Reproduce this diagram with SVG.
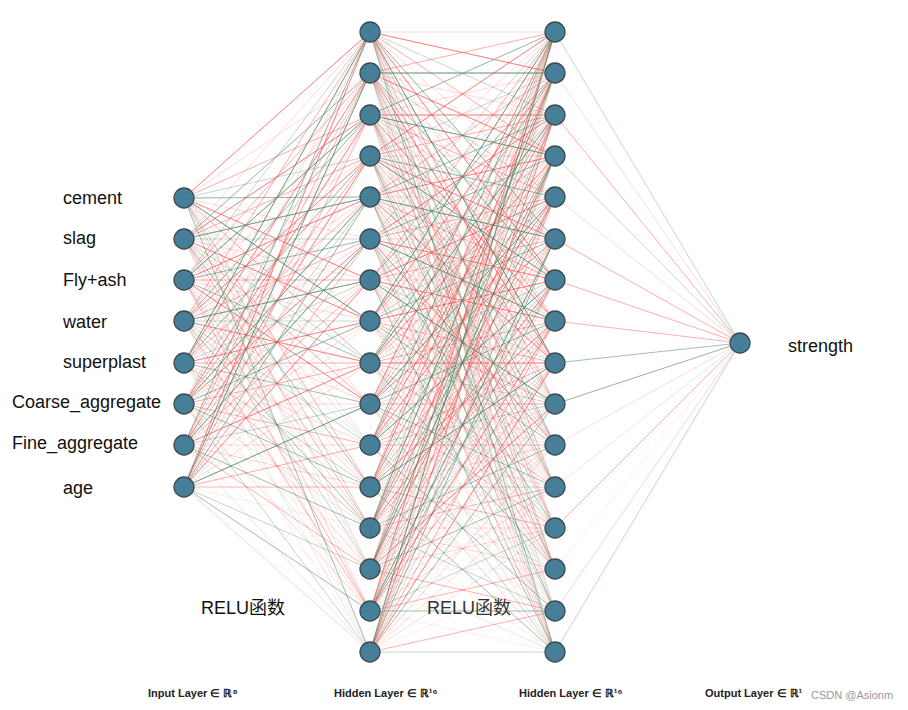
<svg xmlns="http://www.w3.org/2000/svg" width="908" height="710" viewBox="0 0 908 710">
<style>
.e{fill:none;stroke-width:1;stroke-linejoin:round}
.a{stroke:#ff4545;stroke-opacity:.42}
.b{stroke:#ff4a4a;stroke-opacity:.25}
.c{stroke:#ff5a5a;stroke-opacity:.12}
.d{stroke:#4f8462;stroke-opacity:.52}
.g{stroke:#4f8462;stroke-opacity:.34}
.f{stroke:#4f8462;stroke-opacity:.17}
.n circle{fill:#467f97;stroke:#3c4a52;stroke-width:1.3}
.lbl{font-family:"Liberation Sans",Arial,sans-serif;font-size:18px;fill:#111}
.cap{font-family:"Liberation Sans",Arial,sans-serif;font-size:11px;font-weight:bold;fill:#222}
.relu{font-family:"Liberation Sans","Noto Sans CJK SC",sans-serif;font-size:18px}
</style>
<rect width="908" height="710" fill="#fff"/>
<g id="connectors">
<!-- input -> hidden1 -->
<path class="e a" d="M184 198L370 32 184 198 370 280 184 198 370 487M184 239L370 115 184 239 370 321 184 239 370 528M184 280L370 197 184 280 370 404 184 280 370 611M184 321L370 156 184 321 370 363 184 321 370 611M184 363L370 73 184 363 370 321 184 363 370 528M184 404L370 115 184 404 370 239 184 404 370 445M184 445L370 156 184 445 370 363 184 445 370 569M184 487L370 32 184 487 370 280 184 487 370 487"/>
<path class="e b" d="M184 198L370 115 184 198 370 363 184 198 370 569M184 239L370 156 184 239 370 404 184 239 370 611M184 280L370 73 184 280 370 280 184 280 370 528M184 321L370 32 184 321 370 239 184 321 370 487M184 363L370 197 184 363 370 363 184 363 370 569M184 404L370 156 184 404 370 363 184 404 370 611M184 445L370 73 184 445 370 280 184 445 370 487M184 487L370 115 184 487 370 239 184 487 370 445 184 487 370 652"/>
<path class="e c" d="M184 198L370 73 184 198 370 239 184 198 370 404 184 198 370 611M184 239L370 32 184 239 370 280 184 239 370 445 184 239 370 652M184 280L370 156 184 280 370 321 184 280 370 487 184 280 370 652M184 321L370 73 184 321 370 197 184 321 370 404 184 321 370 569M184 363L370 115 184 363 370 239 184 363 370 445 184 363 370 652M184 404L370 32 184 404 370 280 184 404 370 404 184 404 370 569M184 445L370 115 184 445 370 321 184 445 370 445 184 445 370 611M184 487L370 156 184 487 370 363 184 487 370 528"/>
<path class="e d" d="M184 198L370 321 184 198 370 652M184 239L370 197 184 239 370 487M184 280L370 115 184 280 370 363M184 321L370 280 184 321 370 528M184 363L370 32 184 363 370 404M184 404L370 197 184 404 370 487M184 445L370 239 184 445 370 528M184 487L370 73 184 487 370 404 184 487 370 611"/>
<path class="e g" d="M184 198L370 197 184 198 370 528M184 239L370 73 184 239 370 363M184 280L370 239 184 280 370 569M184 321L370 115 184 321 370 445M184 363L370 156 184 363 370 487M184 404L370 321 184 404 370 652M184 445L370 32 184 445 370 404M184 487L370 197 184 487 370 569"/>
<path class="e f" d="M184 198L370 156 184 198 370 445M184 239L370 239 184 239 370 569M184 280L370 32 184 280 370 445M184 321L370 321 184 321 370 652M184 363L370 280 184 363 370 611M184 404L370 73 184 404 370 528M184 445L370 197 184 445 370 652M184 487L370 321"/>
<!-- hidden1 -> hidden2 -->
<path class="e a" d="M370 32L555 73 370 32 555 280 370 32 555 487M370 73L555 156 370 73 555 363 370 73 555 569M370 115L555 115 370 115 555 321 370 115 555 528M370 156L555 32 370 156 555 239 370 156 555 487M370 197L555 156 370 197 555 363 370 197 555 569M370 239L555 115 370 239 555 280 370 239 555 445 370 239 555 652M370 280L555 197 370 280 555 321 370 280 555 569M370 321L555 73 370 321 555 280 370 321 555 404M370 363L555 156 370 363 555 363 370 363 555 487M370 404L555 32 370 404 555 239 370 404 555 528M370 445L555 115 370 445 555 197 370 445 555 445M370 487L555 73 370 487 555 321 370 487 555 528M370 528L555 156 370 528 555 280 370 528 555 487M370 569L555 197 370 569 555 404 370 569 555 611M370 611L555 32 370 611 555 321 370 611 555 569M370 652L555 115 370 652 555 363 370 652 555 611"/>
<path class="e b" d="M370 32L555 156 370 32 555 404 370 32 555 611M370 73L555 32 370 73 555 321 370 73 555 528M370 115L555 197 370 115 555 445 370 115 555 652M370 156L555 115 370 156 555 363 370 156 555 652M370 197L555 73 370 197 555 280 370 197 555 487M370 239L555 197 370 239 555 404M370 280L555 32 370 280 555 239 370 280 555 487M370 321L555 115 370 321 555 363 370 321 555 569M370 363L555 197 370 363 555 321 370 363 555 528M370 404L555 156 370 404 555 404 370 404 555 611M370 445L555 73 370 445 555 363 370 445 555 652M370 487L555 32 370 487 555 239 370 487 555 445M370 528L555 115 370 528 555 321 370 528 555 569M370 569L555 73 370 569 555 280 370 569 555 528M370 611L555 156 370 611 555 363 370 611 555 487M370 652L555 197 370 652 555 321 370 652 555 445"/>
<path class="e c" d="M370 32L555 32 370 32 555 197 370 32 555 321 370 32 555 528M370 73L555 115 370 73 555 239 370 73 555 404 370 73 555 611M370 115L555 73 370 115 555 280 370 115 555 363 370 115 555 569M370 156L555 156 370 156 555 321 370 156 555 445 370 156 555 611M370 197L555 32 370 197 555 197 370 197 555 404 370 197 555 528M370 239L555 73 370 239 555 239 370 239 555 363 370 239 555 569M370 280L555 115 370 280 555 280 370 280 555 445 370 280 555 611M370 321L555 156 370 321 555 321 370 321 555 487 370 321 555 652M370 363L555 32 370 363 555 239 370 363 555 445 370 363 555 611M370 404L555 73 370 404 555 280 370 404 555 363 370 404 555 569M370 445L555 156 370 445 555 321 370 445 555 487 370 445 555 528M370 487L555 115 370 487 555 197 370 487 555 404 370 487 555 611M370 528L555 239 370 528 555 363 370 528 555 528 370 528 555 652M370 569L555 32 370 569 555 239 370 569 555 445 370 569 555 569M370 611L555 115 370 611 555 197 370 611 555 404 370 611 555 652M370 652L555 73 370 652 555 280 370 652 555 487 370 652 555 569"/>
<path class="e d" d="M370 32L555 363 370 32 555 652M370 73L555 73 370 73 555 445M370 115L555 156 370 115 555 487M370 156L555 280 370 156 555 569M370 197L555 239 370 197 555 611M370 239L555 321 370 239 555 528M370 280L555 404 370 280 555 652M370 321L555 32 370 321 555 445M370 363L555 115 370 363 555 569M370 404L555 197 370 404 555 487M370 445L555 280 370 445 555 611M370 487L555 363 370 487 555 652M370 528L555 73 370 528 555 445M370 569L555 156 370 569 555 487M370 611L555 239 370 611 555 611M370 652L555 32 370 652 555 404"/>
<path class="e g" d="M370 32L555 239 370 32 555 569M370 73L555 280 370 73 555 652M370 115L555 32 370 115 555 404M370 156L555 197 370 156 555 528M370 197L555 115 370 197 555 445M370 239L555 156 370 239 555 611M370 280L555 73 370 280 555 363M370 321L555 239 370 321 555 528M370 363L555 73 370 363 555 404M370 404L555 321 370 404 555 652M370 445L555 32 370 445 555 404M370 487L555 156 370 487 555 487M370 528L555 197 370 528 555 611M370 569L555 115 370 569 555 363M370 611L555 280 370 611 555 528M370 652L555 239 370 652 555 652"/>
<path class="e f" d="M370 32L555 115 370 32 555 445M370 73L555 197 370 73 555 487M370 115L555 239 370 115 555 611M370 156L555 73 370 156 555 404M370 197L555 321 370 197 555 652M370 239L555 32 370 239 555 487M370 280L555 156 370 280 555 528M370 321L555 197 370 321 555 611M370 363L555 280 370 363 555 652M370 404L555 115 370 404 555 445M370 445L555 239 370 445 555 569M370 487L555 280 370 487 555 569M370 528L555 32 370 528 555 404M370 569L555 321 370 569 555 652M370 611L555 73 370 611 555 445M370 652L555 156 370 652 555 528"/>
<!-- hidden2 -> output -->
<path class="e a" d="M740 343L555 321"/>
<path class="e b" d="M740 343L555 115 740 343 555 239 740 343 555 280 740 343 555 528 740 343 555 611"/>
<path class="e c" d="M740 343L555 73 740 343 555 197 740 343 555 445 740 343 555 569"/>
<path class="e d" d="M740 343L555 363"/>
<path class="e g" d="M740 343L555 404 740 343 555 652"/>
<path class="e f" d="M740 343L555 32 740 343 555 156 740 343 555 487"/>
</g>
<g id="input-layer" class="n">
<g id="in-cement"><circle cx="184" cy="198" r="10"/></g>
<g id="in-slag"><circle cx="184" cy="239" r="10"/></g>
<g id="in-flyash"><circle cx="184" cy="280" r="10"/></g>
<g id="in-water"><circle cx="184" cy="321" r="10"/></g>
<g id="in-superplast"><circle cx="184" cy="363" r="10"/></g>
<g id="in-coarse"><circle cx="184" cy="404" r="10"/></g>
<g id="in-fine"><circle cx="184" cy="445" r="10"/></g>
<g id="in-age"><circle cx="184" cy="487" r="10"/></g>
</g>
<g id="hidden-layer-1" class="n">
<g id="h1-0"><circle cx="370" cy="32" r="10"/></g>
<g id="h1-1"><circle cx="370" cy="73" r="10"/></g>
<g id="h1-2"><circle cx="370" cy="115" r="10"/></g>
<g id="h1-3"><circle cx="370" cy="156" r="10"/></g>
<g id="h1-4"><circle cx="370" cy="197" r="10"/></g>
<g id="h1-5"><circle cx="370" cy="239" r="10"/></g>
<g id="h1-6"><circle cx="370" cy="280" r="10"/></g>
<g id="h1-7"><circle cx="370" cy="321" r="10"/></g>
<g id="h1-8"><circle cx="370" cy="363" r="10"/></g>
<g id="h1-9"><circle cx="370" cy="404" r="10"/></g>
<g id="h1-10"><circle cx="370" cy="445" r="10"/></g>
<g id="h1-11"><circle cx="370" cy="487" r="10"/></g>
<g id="h1-12"><circle cx="370" cy="528" r="10"/></g>
<g id="h1-13"><circle cx="370" cy="569" r="10"/></g>
<g id="h1-14"><circle cx="370" cy="611" r="10"/></g>
<g id="h1-15"><circle cx="370" cy="652" r="10"/></g>
</g>
<g id="hidden-layer-2" class="n">
<g id="h2-0"><circle cx="555" cy="32" r="10"/></g>
<g id="h2-1"><circle cx="555" cy="73" r="10"/></g>
<g id="h2-2"><circle cx="555" cy="115" r="10"/></g>
<g id="h2-3"><circle cx="555" cy="156" r="10"/></g>
<g id="h2-4"><circle cx="555" cy="197" r="10"/></g>
<g id="h2-5"><circle cx="555" cy="239" r="10"/></g>
<g id="h2-6"><circle cx="555" cy="280" r="10"/></g>
<g id="h2-7"><circle cx="555" cy="321" r="10"/></g>
<g id="h2-8"><circle cx="555" cy="363" r="10"/></g>
<g id="h2-9"><circle cx="555" cy="404" r="10"/></g>
<g id="h2-10"><circle cx="555" cy="445" r="10"/></g>
<g id="h2-11"><circle cx="555" cy="487" r="10"/></g>
<g id="h2-12"><circle cx="555" cy="528" r="10"/></g>
<g id="h2-13"><circle cx="555" cy="569" r="10"/></g>
<g id="h2-14"><circle cx="555" cy="611" r="10"/></g>
<g id="h2-15"><circle cx="555" cy="652" r="10"/></g>
</g>
<g id="output-layer" class="n">
<g id="out-strength"><circle cx="740" cy="343" r="10"/></g>
</g>
<g id="labels">
<text class="lbl" x="63" y="204">cement</text>
<text class="lbl" x="63" y="244">slag</text>
<text class="lbl" x="63" y="286">Fly+ash</text>
<text class="lbl" x="63" y="328">water</text>
<text class="lbl" x="63" y="368">superplast</text>
<text class="lbl" x="12" y="408">Coarse_aggregate</text>
<text class="lbl" x="12" y="449">Fine_aggregate</text>
<text class="lbl" x="63" y="494">age</text>
<text class="lbl" x="788" y="352">strength</text>
<text class="relu" x="201" y="614" fill="#111">RELU函数</text>
<text class="relu" x="427" y="614" fill="#333">RELU函数</text>
<text class="cap" x="148" y="697">Input Layer ∈ ℝ⁸</text>
<text class="cap" x="334" y="697">Hidden Layer ∈ ℝ¹⁶</text>
<text class="cap" x="519" y="697">Hidden Layer ∈ ℝ¹⁶</text>
<text class="cap" x="705" y="697">Output Layer ∈ ℝ¹</text>
<text x="811" y="699" font-family="Liberation Sans,Arial,sans-serif" font-size="11" fill="#999">CSDN @Asionm</text>
</g>
</svg>
